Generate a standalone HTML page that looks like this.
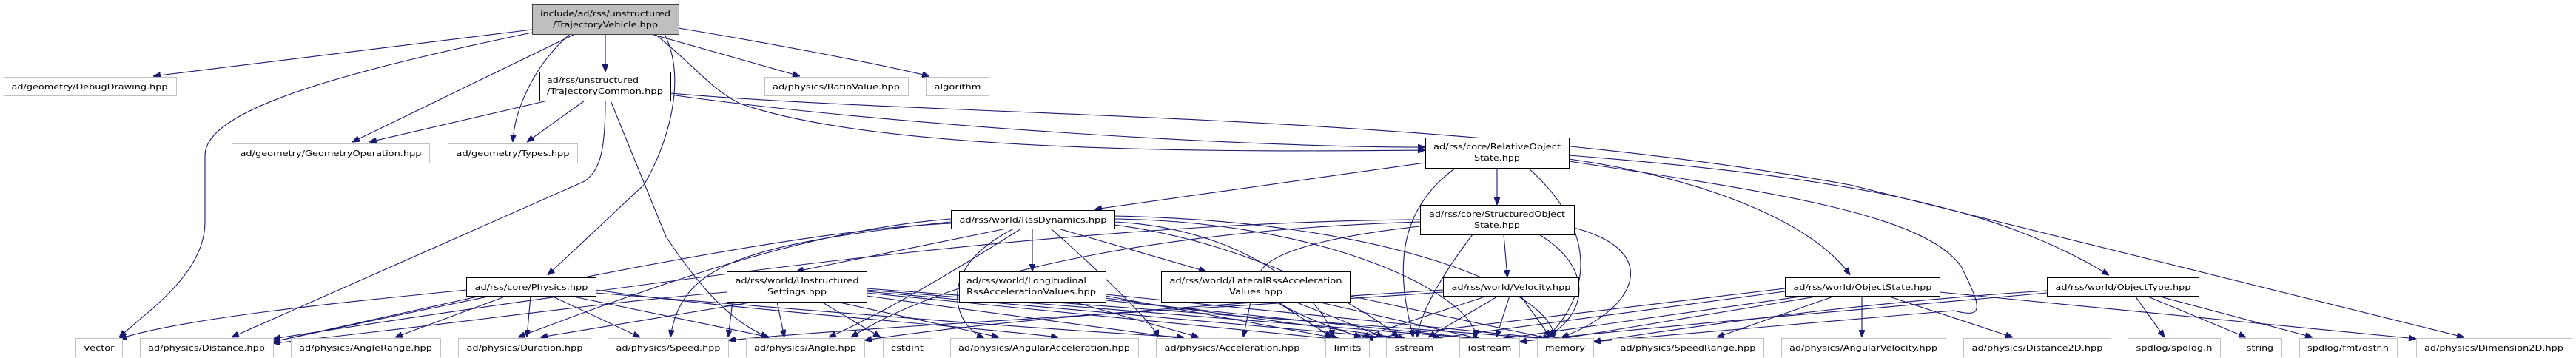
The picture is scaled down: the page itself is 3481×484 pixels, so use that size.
<!DOCTYPE html>
<html><head><meta charset="utf-8"><style>
html,body{margin:0;padding:0;background:#fff;}
svg{display:block}
text{font-family:"DejaVu Sans","Liberation Sans",sans-serif;font-size:11px;fill:#000}
.e{fill:none;stroke:#191970;stroke-width:1.1;marker-end:url(#a)}
.n{fill:#fff;stroke:#000;stroke-width:1}
.g{fill:#fff;stroke:#bfbfbf;stroke-width:1}
</style></head><body>
<svg width="3481" height="484" viewBox="0 0 3481 484" xmlns="http://www.w3.org/2000/svg">
<defs><marker id="a" markerWidth="10" markerHeight="8" refX="10" refY="4" orient="auto" markerUnits="userSpaceOnUse"><path d="M0,0 L10,4 L0,8 z" fill="#191970" stroke="#191970"/></marker></defs>

<!-- edges from TrajectoryVehicle -->
<path class="e" d="M719,40 L207,103"/>
<path class="e" d="M719,44 C450,100 277,150 277,210 L277,300 C277,370 200,420 161,456"/>
<path class="e" d="M777,46 L476,192"/>
<path class="e" d="M770,46 C720,90 695,150 693,192"/>
<path class="e" d="M818,46 L818,97"/>
<path class="e" d="M898,46 C930,110 900,200 870,250 L740,372"/>
<path class="e" d="M880,46 L1081,103"/>
<path class="e" d="M917,38 C1050,60 1180,85 1256,103"/>
<path class="e" d="M885,46 C940,90 960,120 1000,140 C1200,210 1700,205 1926,203"/>
<!-- TrajectoryCommon -->
<path class="e" d="M740,136 L499,192"/>
<path class="e" d="M790,136 L712,192"/>
<path class="e" d="M818,136 C818,200 812,230 790,245 L313,456"/>
<path class="e" d="M825,136 L900,320 C960,410 1000,440 1038,456"/>
<path class="e" d="M906,128 C1200,170 1700,200 1926,199"/>
<path class="e" d="M906,126 C1300,160 1950,150 2500,250 L3330,456"/>
<!-- RelativeObjectState -->
<path class="e" d="M1926,220 L1479,283"/>
<path class="e" d="M2023,227 L2023,277"/>
<path class="e" d="M1967,227 C1880,290 1890,380 1910,456"/>
<path class="e" d="M2065,227 C2180,330 2130,420 2090,456"/>
<path class="e" d="M2120,215 C2300,240 2450,300 2500,372"/>
<path class="e" d="M2120,210 C2500,240 2700,280 2850,372"/>
<path class="e" d="M2120,218 C2400,260 2600,290 2650,360 C2680,420 2680,430 2640,420 L2153,462"/>
<!-- RssDynamics -->
<path class="e" d="M1285,302 C1100,310 800,370 369,462"/>
<path class="e" d="M1285,300 C1000,330 920,360 906,456"/>
<path class="e" d="M1285,296 C1100,310 900,380 700,456"/>
<path class="e" d="M1360,309 L1076,367"/>
<path class="e" d="M1395,309 L1395,367"/>
<path class="e" d="M1430,309 L1630,367"/>
<path class="e" d="M1370,309 C1250,370 1300,450 1330,456"/>
<path class="e" d="M1420,309 C1500,380 1560,440 1565,456"/>
<path class="e" d="M1506,300 C1700,310 1800,420 1800,456"/>
<path class="e" d="M1506,304 C1700,330 1850,420 1890,456"/>
<path class="e" d="M1506,296 C1800,300 1990,400 1995,456"/>
<path class="e" d="M1506,292 C1900,300 2100,400 2100,456"/>
<path class="e" d="M1380,309 C1300,360 1200,420 1120,456"/>
<!-- StructuredObjectState -->
<path class="e" d="M1919,297 C1500,300 1000,360 369,458"/>
<path class="e" d="M1919,300 C1600,310 1300,360 1150,456"/>
<path class="e" d="M2032,317 L2037,375"/>
<path class="e" d="M1990,317 C1950,370 1920,420 1915,456"/>
<path class="e" d="M2080,317 C2150,360 2150,420 2090,456"/>
<path class="e" d="M2127,308 C2250,340 2210,420 2110,456"/>
<path class="e" d="M1919,306 C1700,330 1600,380 1840,456"/>
<!-- Physics -->
<path class="e" d="M630,392 C450,410 250,430 161,458"/>
<path class="e" d="M650,400 L369,462"/>
<path class="e" d="M685,400 L534,456"/>
<path class="e" d="M717,400 L712,456"/>
<path class="e" d="M745,400 L865,456"/>
<path class="e" d="M770,400 L1040,456"/>
<path class="e" d="M805,392 C1000,420 1300,440 1430,456"/>
<path class="e" d="M805,396 C1100,420 1400,445 1600,456"/>
<!-- UnstructuredSettings -->
<path class="e" d="M982,395 C800,410 600,440 369,464"/>
<path class="e" d="M1020,408 L730,456"/>
<path class="e" d="M1050,408 L1060,456"/>
<path class="e" d="M1110,408 L1190,456"/>
<path class="e" d="M1130,408 L1350,456"/>
<path class="e" d="M1171,400 L1600,458"/>
<path class="e" d="M1171,396 L1800,458"/>
<path class="e" d="M1171,394 L1895,458"/>
<path class="e" d="M1171,392 L2000,458"/>
<path class="e" d="M1171,390 L2090,458"/>
<path class="e" d="M990,408 L984,456"/>
<!-- Longitudinal -->
<path class="e" d="M1450,408 L1620,456"/>
<path class="e" d="M1494,400 L1810,458"/>
<path class="e" d="M1494,403 L1900,458"/>
<path class="e" d="M1494,406 L2000,458"/>
<path class="e" d="M1494,398 L2095,458"/>
<!-- Lateral -->
<path class="e" d="M1690,408 L1680,456"/>
<path class="e" d="M1725,408 L1800,456"/>
<path class="e" d="M1750,408 L1870,456"/>
<path class="e" d="M1780,408 L2000,458"/>
<path class="e" d="M1824,400 L2095,458"/>
<!-- Velocity -->
<path class="e" d="M1950,392 C1500,420 1300,440 1168,460"/>
<path class="e" d="M2010,400 L1840,456"/>
<path class="e" d="M2025,400 L1930,456"/>
<path class="e" d="M2040,400 L2022,456"/>
<path class="e" d="M2055,400 L2095,456"/>
<path class="e" d="M1950,395 C1600,420 1200,440 984,460"/>
<!-- ObjectState -->
<path class="e" d="M2412,390 L1845,458"/>
<path class="e" d="M2412,394 L1935,458"/>
<path class="e" d="M2440,400 L2030,458"/>
<path class="e" d="M2460,400 L2110,458"/>
<path class="e" d="M2480,400 L2320,456"/>
<path class="e" d="M2516,400 L2516,456"/>
<path class="e" d="M2550,400 L2720,456"/>
<path class="e" d="M2621,395 L3265,458"/>
<!-- ObjectType -->
<path class="e" d="M2766,393 C2500,410 2300,440 2153,462"/>
<path class="e" d="M2766,396 C2500,420 2250,440 2053,462"/>
<path class="e" d="M2885,400 L2925,456"/>
<path class="e" d="M2900,400 L3035,456"/>
<path class="e" d="M2915,400 L3125,456"/>

<!-- nodes -->
<rect x="719.5" y="6.5" width="198" height="40" fill="#bfbfbf" stroke="#404040"/>
<text x="818" y="22" text-anchor="middle" textLength="176" lengthAdjust="spacingAndGlyphs">include/ad/rss/unstructured</text>
<text x="818" y="37" text-anchor="middle" textLength="142" lengthAdjust="spacingAndGlyphs">/TrajectoryVehicle.hpp</text>

<rect class="g" x="5.5" y="104.5" width="233" height="25"/><text x="121" y="121" text-anchor="middle" textLength="211" lengthAdjust="spacingAndGlyphs">ad/geometry/DebugDrawing.hpp</text>
<rect class="g" x="1033.5" y="104.5" width="194" height="25"/><text x="1130" y="121" text-anchor="middle" textLength="172" lengthAdjust="spacingAndGlyphs">ad/physics/RatioValue.hpp</text>
<rect class="g" x="1251.5" y="104.5" width="85" height="25"/><text x="1294" y="121" text-anchor="middle" textLength="63" lengthAdjust="spacingAndGlyphs">algorithm</text>

<rect class="n" x="729.5" y="97.5" width="177" height="39"/>
<text x="739" y="112" textLength="124" lengthAdjust="spacingAndGlyphs">ad/rss/unstructured</text>
<text x="739" y="127" textLength="157" lengthAdjust="spacingAndGlyphs">/TrajectoryCommon.hpp</text>

<rect class="g" x="313.5" y="194.5" width="267" height="26"/><text x="447" y="211" text-anchor="middle" textLength="245" lengthAdjust="spacingAndGlyphs">ad/geometry/GeometryOperation.hpp</text>
<rect class="g" x="605.5" y="194.5" width="175" height="26"/><text x="693" y="211" text-anchor="middle" textLength="153" lengthAdjust="spacingAndGlyphs">ad/geometry/Types.hpp</text>

<rect class="n" x="1926.5" y="186.5" width="194" height="41"/>
<text x="2023" y="202" text-anchor="middle" textLength="172" lengthAdjust="spacingAndGlyphs">ad/rss/core/RelativeObject</text>
<text x="2023" y="217" text-anchor="middle" textLength="62" lengthAdjust="spacingAndGlyphs">State.hpp</text>

<rect class="n" x="1285.5" y="284.5" width="221" height="25"/><text x="1396" y="301" text-anchor="middle" textLength="199" lengthAdjust="spacingAndGlyphs">ad/rss/world/RssDynamics.hpp</text>

<rect class="n" x="1919.5" y="277.5" width="208" height="40"/>
<text x="2023" y="293" text-anchor="middle" textLength="184" lengthAdjust="spacingAndGlyphs">ad/rss/core/StructuredObject</text>
<text x="2023" y="308" text-anchor="middle" textLength="62" lengthAdjust="spacingAndGlyphs">State.hpp</text>

<rect class="n" x="982.5" y="367.5" width="189" height="41"/>
<text x="1077" y="383" text-anchor="middle" textLength="167" lengthAdjust="spacingAndGlyphs">ad/rss/world/Unstructured</text>
<text x="1077" y="398" text-anchor="middle" textLength="80" lengthAdjust="spacingAndGlyphs">Settings.hpp</text>

<rect class="n" x="1296.5" y="367.5" width="198" height="41"/>
<text x="1306" y="383" textLength="162" lengthAdjust="spacingAndGlyphs">ad/rss/world/Longitudinal</text>
<text x="1306" y="398" textLength="175" lengthAdjust="spacingAndGlyphs">RssAccelerationValues.hpp</text>

<rect class="n" x="1569.5" y="367.5" width="255" height="41"/>
<text x="1697" y="383" text-anchor="middle" textLength="233" lengthAdjust="spacingAndGlyphs">ad/rss/world/LateralRssAcceleration</text>
<text x="1697" y="398" text-anchor="middle" textLength="72" lengthAdjust="spacingAndGlyphs">Values.hpp</text>

<rect class="n" x="630.5" y="375.5" width="175" height="25"/><text x="718" y="392" text-anchor="middle" textLength="153" lengthAdjust="spacingAndGlyphs">ad/rss/core/Physics.hpp</text>
<rect class="n" x="1950.5" y="375.5" width="183" height="25"/><text x="2042" y="392" text-anchor="middle" textLength="161" lengthAdjust="spacingAndGlyphs">ad/rss/world/Velocity.hpp</text>
<rect class="n" x="2412.5" y="375.5" width="209" height="25"/><text x="2517" y="392" text-anchor="middle" textLength="187" lengthAdjust="spacingAndGlyphs">ad/rss/world/ObjectState.hpp</text>
<rect class="n" x="2766.5" y="375.5" width="205" height="25"/><text x="2869" y="392" text-anchor="middle" textLength="183" lengthAdjust="spacingAndGlyphs">ad/rss/world/ObjectType.hpp</text>

<!-- bottom row -->
<g>
<rect class="g" x="102.5" y="457.5" width="63" height="25"/><text x="134" y="474" text-anchor="middle" textLength="41" lengthAdjust="spacingAndGlyphs">vector</text>
<rect class="g" x="189.5" y="457.5" width="180" height="25"/><text x="279" y="474" text-anchor="middle" textLength="158" lengthAdjust="spacingAndGlyphs">ad/physics/Distance.hpp</text>
<rect class="g" x="393.5" y="457.5" width="202" height="25"/><text x="494" y="474" text-anchor="middle" textLength="180" lengthAdjust="spacingAndGlyphs">ad/physics/AngleRange.hpp</text>
<rect class="g" x="619.5" y="457.5" width="179" height="25"/><text x="709" y="474" text-anchor="middle" textLength="157" lengthAdjust="spacingAndGlyphs">ad/physics/Duration.hpp</text>
<rect class="g" x="821.5" y="457.5" width="163" height="25"/><text x="903" y="474" text-anchor="middle" textLength="141" lengthAdjust="spacingAndGlyphs">ad/physics/Speed.hpp</text>
<rect class="g" x="1008.5" y="457.5" width="160" height="25"/><text x="1088" y="474" text-anchor="middle" textLength="138" lengthAdjust="spacingAndGlyphs">ad/physics/Angle.hpp</text>
<rect class="g" x="1193.5" y="457.5" width="66" height="25"/><text x="1226" y="474" text-anchor="middle" textLength="44" lengthAdjust="spacingAndGlyphs">cstdint</text>
<rect class="g" x="1284.5" y="457.5" width="254" height="25"/><text x="1411" y="474" text-anchor="middle" textLength="232" lengthAdjust="spacingAndGlyphs">ad/physics/AngularAcceleration.hpp</text>
<rect class="g" x="1562.5" y="457.5" width="205" height="25"/><text x="1665" y="474" text-anchor="middle" textLength="183" lengthAdjust="spacingAndGlyphs">ad/physics/Acceleration.hpp</text>
<rect class="g" x="1791.5" y="457.5" width="59" height="25"/><text x="1821" y="474" text-anchor="middle" textLength="37" lengthAdjust="spacingAndGlyphs">limits</text>
<rect class="g" x="1873.5" y="457.5" width="75" height="25"/><text x="1911" y="474" text-anchor="middle" textLength="53" lengthAdjust="spacingAndGlyphs">sstream</text>
<rect class="g" x="1972.5" y="457.5" width="81" height="25"/><text x="2013" y="474" text-anchor="middle" textLength="59" lengthAdjust="spacingAndGlyphs">iostream</text>
<rect class="g" x="2077.5" y="457.5" width="76" height="25"/><text x="2115" y="474" text-anchor="middle" textLength="54" lengthAdjust="spacingAndGlyphs">memory</text>
<rect class="g" x="2178.5" y="457.5" width="205" height="25"/><text x="2281" y="474" text-anchor="middle" textLength="183" lengthAdjust="spacingAndGlyphs">ad/physics/SpeedRange.hpp</text>
<rect class="g" x="2407.5" y="457.5" width="222" height="25"/><text x="2518" y="474" text-anchor="middle" textLength="200" lengthAdjust="spacingAndGlyphs">ad/physics/AngularVelocity.hpp</text>
<rect class="g" x="2653.5" y="457.5" width="199" height="25"/><text x="2753" y="474" text-anchor="middle" textLength="177" lengthAdjust="spacingAndGlyphs">ad/physics/Distance2D.hpp</text>
<rect class="g" x="2875.5" y="457.5" width="125" height="25"/><text x="2938" y="474" text-anchor="middle" textLength="103" lengthAdjust="spacingAndGlyphs">spdlog/spdlog.h</text>
<rect class="g" x="3025.5" y="457.5" width="58" height="25"/><text x="3054" y="474" text-anchor="middle" textLength="36" lengthAdjust="spacingAndGlyphs">string</text>
<rect class="g" x="3107.5" y="457.5" width="132" height="25"/><text x="3173" y="474" text-anchor="middle" textLength="110" lengthAdjust="spacingAndGlyphs">spdlog/fmt/ostr.h</text>
<rect class="g" x="3265.5" y="457.5" width="210" height="25"/><text x="3370" y="474" text-anchor="middle" textLength="188" lengthAdjust="spacingAndGlyphs">ad/physics/Dimension2D.hpp</text>
</g>
</svg>
</body></html>
